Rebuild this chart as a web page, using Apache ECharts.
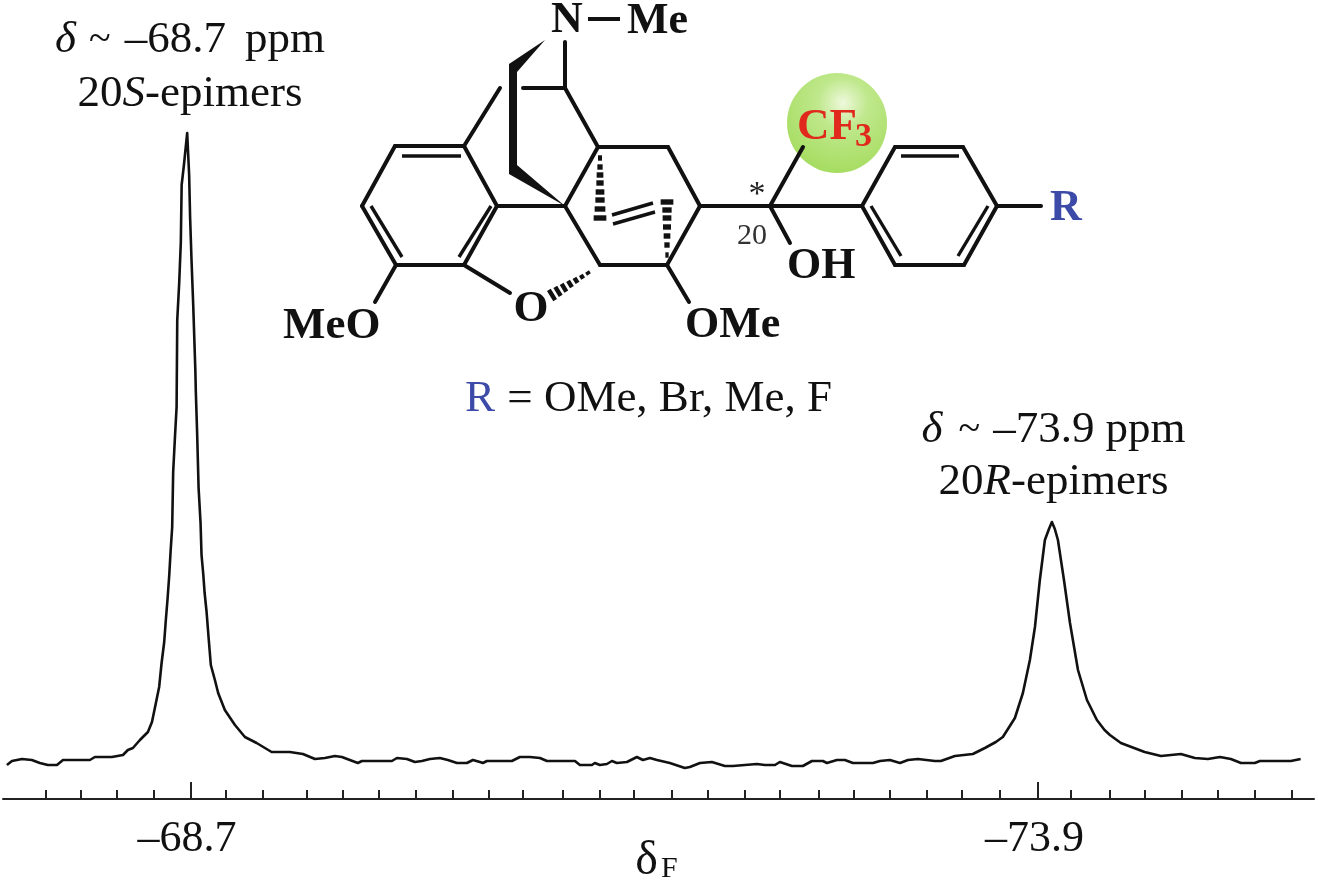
<!DOCTYPE html>
<html>
<head>
<meta charset="utf-8">
<style>html,body{margin:0;padding:0;background:#fff}#c{width:1318px;height:886px}</style>
<script src="https://cdn.jsdelivr.net/npm/echarts@6/dist/echarts.min.js"></script>
</head>
<body>
<div id="c"></div>
<script>
const shiftPpm = [-67.574,-67.605,-67.666,-67.727,-67.776,-67.825,-67.881,-67.918,-68.083,-68.114,-68.218,-68.286,-68.316,-68.347,-68.390,-68.439,-68.464,-68.488,-68.508,-68.523,-68.539,-68.549,-68.560,-68.570,-68.578,-68.588,-68.594,-68.605,-68.615,-68.619,-68.631,-68.641,-68.646,-68.660,-68.680,-68.692,-68.698,-68.707,-68.717,-68.730,-68.733,-68.741,-68.750,-68.762,-68.768,-68.778,-68.787,-68.799,-68.811,-68.825,-68.850,-68.870,-68.911,-68.973,-69.034,-69.106,-69.198,-69.310,-69.390,-69.464,-69.525,-69.586,-69.629,-69.727,-69.752,-69.936,-69.967,-70.028,-70.077,-70.120,-70.169,-70.230,-70.279,-70.335,-70.396,-70.433,-70.476,-70.494,-70.519,-70.672,-70.721,-70.783,-70.844,-70.887,-71.059,-71.089,-71.163,-71.181,-71.212,-71.255,-71.286,-71.316,-71.378,-71.439,-71.476,-71.519,-71.562,-71.641,-71.733,-71.764,-71.826,-71.899,-71.979,-72.028,-72.040,-72.175,-72.224,-72.286,-72.316,-72.390,-72.457,-72.513,-72.580,-72.605,-72.666,-72.715,-72.764,-72.887,-72.930,-72.991,-73.053,-73.102,-73.163,-73.267,-73.304,-73.390,-73.500,-73.574,-73.641,-73.684,-73.727,-73.758,-73.807,-73.850,-73.881,-73.911,-73.942,-73.967,-73.985,-74.003,-74.022,-74.059,-74.096,-74.145,-74.200,-74.261,-74.308,-74.341,-74.408,-74.554,-74.654,-74.776,-74.862,-74.942,-75.016,-75.083,-75.145,-75.230,-75.261,-75.451,-75.511];
const intensity = [34,38,40,39,36,34,34,39,39,42,42,44,49,51,59,67,77,96,112,136,157,179,201,224,247,272,327,362,392,479,516,557,614,634,666,624,581,537,494,429,407,366,311,276,244,226,206,187,162,134,119,106,89,74,62,56,47,47,45,40,41,43,42,36,38,38,41,40,37,38,40,41,39,36,36,39,37,36,38,38,42,42,41,38,38,34,34,36,34,35,38,36,37,42,39,41,39,36,31,32,36,37,33,33,35,35,34,34,37,33,33,38,38,36,39,39,36,36,38,39,36,39,40,38,38,43,45,51,57,62,73,81,106,139,172,219,259,270,277,270,259,219,176,129,99,79,69,64,56,47,43,45,41,40,42,40,36,36,38,38,40];
const minorTicks = [-67.813,-68.028,-68.249,-68.476,-68.918,-69.145,-69.415,-69.636,-69.856,-70.083,-70.310,-70.531,-70.740,-70.985,-71.212,-71.421,-71.654,-71.875,-72.102,-72.317,-72.556,-72.771,-72.991,-73.218,-73.433,-73.666,-74.102,-74.341,-74.556,-74.783,-75.004,-75.231,-75.458];
const majorTicks = [-68.7,-73.9];
const peakNotes = [
  {ppm:'–68.7', epimer:['20','S','-epimers']},
  {ppm:'–73.9', epimer:['20','R','-epimers']}
];
const FONT = '"Liberation Serif","Times New Roman",serif';
const INK = '#111';

/* chemical structure drawing (annotation, not data) */
const bonds = [
 [464,146,395,146],[395,146,362,206],[362,206,396,265],[396,265,464,265],[464,265,497,206],[497,206,464,146],
 [497,206,565,206],[464,265,510,293],[396,265,375,302],[565,206,600,265],[600,265,667,265],[667,265,700,206],
 [700,206,668,147],[668,147,598,147],[598,147,565,206],[598,147,565,88],[565,88,523,88],[464,146,500,88],[565,88,565,42],
 [667,265,689,302],[700,206,862,206],[770,206,803,147],[770,206,790,243],
 [862,206,895,147],[895,147,963,147],[963,147,997,206],[997,206,964,265],[964,265,895,265],[895,265,862,206],[997,206,1041,206]
];
const innerBonds = [
 [402,156,461,156],[371,206,402,257],[459,257,491,206],[901,156,959,156],[871,206,901,256],[958,256,988,206],
 [612,215,653,203],[613,224,655,212]
];
const wedge = [[545,40],[509,64],[509,174],[565,206],[517,165],[517,72]];
const hashA = [[600,158,4],[600,167,5.3],[600,175,6.7],[600,183,7.3],[600,192,8.7],[600,200,9.3],[600,209,10.7],[600,218,12.7]];
const hashB = [[667,202,12.7],[667,210,9.3],[667,218,8.7],[667,227,8],[667,236,6.7],[667,245,5.3],[667,255,3.3]];
const hashO = [[552,295,12],[558,291.4,10.5],[564,287.7,9],[570,284,7.5],[576,280.4,6],[582,276.8,4.5],[588,273,3.5]];

function txt(x,y,text,size,o){
  o=o||{};
  return {type:'text',z:10,x:x,y:y,silent:true,style:Object.assign({text:text,fill:o.fill||INK,
    font:(o.italic?'italic ':'')+(o.bold?'bold ':'')+size+'px '+FONT,align:o.align||'center',verticalAlign:'middle'},o.style||{})};
}
function richLine(x,y,text,gaps){
  gaps=gaps||[10,10,10];
  return {type:'text',z:10,x:x,y:y,silent:true,style:{text:text,fill:INK,font:'45px '+FONT,align:'center',verticalAlign:'middle',
    rich:{i:{fontStyle:'italic',fontSize:45,fontFamily:FONT,fill:INK},n:{fontSize:45,fontFamily:FONT,fill:INK},t:{fontSize:40,fontFamily:FONT,fill:INK},
      a:{width:gaps[0],fontSize:45},b:{width:gaps[1],fontSize:45},c:{width:gaps[2],fontSize:45}}}};
}
const g = [];
g.push({type:'circle',z:5,silent:true,shape:{cx:837,cy:123,r:50},style:{fill:{type:'radial',x:0.56,y:0.3,r:0.72,colorStops:[{offset:0,color:'#eef9dc'},{offset:0.35,color:'#bfe88c'},{offset:1,color:'#a5dc5f'}]}}});
bonds.forEach(b=>g.push({type:'line',z:6,silent:true,shape:{x1:b[0],y1:b[1],x2:b[2],y2:b[3]},style:{stroke:INK,lineWidth:4,lineCap:'round'}}));
innerBonds.forEach(b=>g.push({type:'line',z:6,silent:true,shape:{x1:b[0],y1:b[1],x2:b[2],y2:b[3]},style:{stroke:INK,lineWidth:3.4,lineCap:'butt'}}));
g.push({type:'polygon',z:6,silent:true,shape:{points:wedge},style:{fill:INK}});
[hashA,hashB].forEach(h=>h.forEach(p=>g.push({type:'rect',z:6,silent:true,shape:{x:p[0]-p[2]/2,y:p[1]-2.7,width:p[2],height:5.4},style:{fill:INK}})));
hashO.forEach(p=>{const dx=0.52*p[2]/2,dy=0.86*p[2]/2;g.push({type:'line',z:6,silent:true,shape:{x1:p[0]-dx,y1:p[1]-dy,x2:p[0]+dx,y2:p[1]+dy},style:{stroke:INK,lineWidth:4.4}})});
g.push(txt(567,21,'N',44,{bold:true}));
g.push({type:'line',z:6,silent:true,shape:{x1:588,y1:19,x2:620,y2:19},style:{stroke:INK,lineWidth:4}});
g.push(txt(627,22,'Me',44,{bold:true,align:'left'}));
g.push(txt(283,326,'MeO',45,{bold:true,align:'left'}));
g.push(txt(531,309,'O',45,{bold:true}));
g.push(txt(685,326,'OMe',44,{bold:true,align:'left'}));
g.push(txt(787,267,'OH',44,{bold:true,align:'left'}));
g.push(txt(1066,209,'R',44,{bold:true,fill:'#3c4aa8'}));
g.push(txt(797,127,'CF',45,{bold:true,align:'left',fill:'#e0281c'}));
g.push(txt(855,137,'3',34,{bold:true,align:'left',fill:'#e0281c'}));
g.push(txt(757,195,'*',34,{fill:'#222'}));
g.push(txt(752,236,'20',30,{fill:'#333'}));
g.push({type:'text',z:10,x:465,y:399,silent:true,style:{text:'R',fill:'#3c4aa8',font:'45px '+FONT,align:'left',verticalAlign:'middle'}});
g.push({type:'text',z:10,x:496,y:399,silent:true,style:{text:' = OMe, Br, Me, F',fill:INK,font:'45px '+FONT,align:'left',verticalAlign:'middle'}});
[[190,40,94,peakNotes[0],[13,14,19]],[1053.5,430,482,peakNotes[1],[16,13,11]]].forEach(a=>{
  const n=a[3];
  g.push(richLine(a[0],a[1],'{i|δ}{a| }{t|~}{b| }{n|'+n.ppm+'}{c| }{n|ppm}',a[4]));
  g.push(richLine(a[0],a[2],'{n|'+n.epimer[0]+'}{i|'+n.epimer[1]+'}{n|'+n.epimer[2]+'}'));
});

const XMIN=-75.593, XMAX=-67.55;
const chart = echarts.init(document.getElementById('c'),null,{renderer:'canvas'});
chart.setOption({
  animation:false,
  backgroundColor:'#fff',
  grid:{left:3,width:1311,top:0,height:799,containLabel:false,outerBoundsMode:'none'},
  xAxis:[
    {type:'value',inverse:true,min:XMIN,max:XMAX,position:'bottom',splitLine:{show:false},
     axisLine:{show:true,onZero:false,lineStyle:{color:'#222',width:2}},
     axisTick:{show:true,inside:true,length:9,lineStyle:{color:'#222',width:2},customValues:minorTicks},
     axisLabel:{show:true,customValues:majorTicks,margin:18,fontFamily:FONT,fontSize:44,color:INK,padding:[0,7,0,0],hideOverlap:false,
       formatter:v=>'–'+Math.abs(v).toFixed(1)},
     name:'{d|δ}{f|F}',nameLocation:'middle',nameGap:38,nameMoveOverlap:false,
     nameTextStyle:{rich:{d:{fontFamily:FONT,fontSize:48,color:INK,padding:[0,3,0,0]},f:{fontFamily:FONT,fontSize:30,color:INK,padding:[16,4,0,0]}}}},
    {type:'value',inverse:true,min:XMIN,max:XMAX,position:'bottom',splitLine:{show:false},
     axisLine:{show:false,onZero:false},
     axisTick:{show:true,inside:true,length:17,lineStyle:{color:'#222',width:2},customValues:majorTicks},
     axisLabel:{show:false}}
  ],
  yAxis:{type:'value',min:0,max:799,show:false,splitLine:{show:false}},
  series:[{type:'line',xAxisIndex:0,silent:true,symbol:'none',smooth:false,
    lineStyle:{color:INK,width:2.6,join:'round'},
    data:shiftPpm.map((s,i)=>[s,intensity[i]])}],
  graphic:{elements:g}
});
</script>
</body>
</html>
